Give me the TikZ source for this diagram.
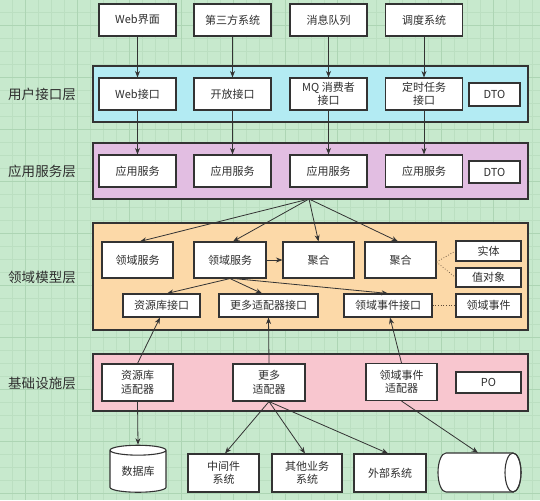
\documentclass[tikz,border=0pt]{standalone}
\usepackage{fontspec}
\newfontfamily\cjk{Noto Sans CJK SC}
\usetikzlibrary{shapes.geometric,arrows.meta}
\definecolor{bg}{HTML}{C7E9CD}
\definecolor{gridmin}{HTML}{BBDFC1}
\definecolor{gridmaj}{HTML}{ADD5B4}
\definecolor{lblue}{HTML}{B3EBF3}
\definecolor{lpurple}{HTML}{E2BEE2}
\definecolor{lorange}{HTML}{FCD9A8}
\definecolor{lpink}{HTML}{F8C6CF}
\definecolor{edge}{HTML}{333333}
\definecolor{txt}{HTML}{2E2E2E}
\tikzset{
  layerbox/.style={draw=edge, line width=1.1pt},
  wbox/.style={draw=edge, fill=white, line width=1.1pt, inner sep=0pt, align=center,
    text=txt, font=\cjk\fontsize{11}{13.5}\selectfont},
  layerlabel/.style={text=txt, font=\cjk\fontsize{13.5}{16}\selectfont},
  arr/.style={draw=edge, line width=0.8pt, -{Stealth[length=6.5pt,width=5pt]}},
  dotl/.style={draw=edge!70!brown, line width=0.7pt, dotted},
}
\begin{document}
\begin{tikzpicture}[x=1pt,y=-1pt]
\useasboundingbox (0,0) rectangle (540,500);
\fill[bg] (0,0) rectangle (540,500);
\foreach \i in {0,...,41} {
  \draw[gridmin, line width=0.5pt] (12+13*\i,0) -- (12+13*\i,500);
  \draw[gridmin, line width=0.5pt] (0,12+13*\i) -- (540,12+13*\i);
}
\foreach \i in {0,...,10} {
  \draw[gridmaj, line width=0.7pt] (25+52*\i,0) -- (25+52*\i,500);
  \draw[gridmaj, line width=0.7pt] (0,25+52*\i) -- (540,25+52*\i);
}
% layers
\filldraw[layerbox, fill=lblue] (93,66) rectangle (528,122);
\filldraw[layerbox, fill=lpurple] (93,143) rectangle (528,199);
\filldraw[layerbox, fill=lorange] (93,223) rectangle (528,330);
\filldraw[layerbox, fill=lpink] (93,354) rectangle (528,411);
% layer labels
\node[layerlabel] (l1) at (42,94) {用户接口层};
\node[layerlabel] (l2) at (42,171) {应用服务层};
\node[layerlabel] (l3) at (42,277) {领域模型层};
\node[layerlabel] (l4) at (42,383) {基础设施层};
% top systems
\node[wbox, minimum width=77, minimum height=32] (web) at (137.5,20) {Web界面};
\node[wbox, minimum width=77, minimum height=32] (third) at (232.5,20) {第三方系统};
\node[wbox, minimum width=77, minimum height=32] (mq) at (328.5,20) {消息队列};
\node[wbox, minimum width=77, minimum height=32] (sched) at (424,20) {调度系统};
% interface layer
\node[wbox, minimum width=77, minimum height=32] (webi) at (137.5,94) {Web接口};
\node[wbox, minimum width=77, minimum height=32] (openi) at (232.5,94) {开放接口};
\node[wbox, minimum width=77, minimum height=32] (mqi) at (328.5,94) {MQ 消费者\\接口};
\node[wbox, minimum width=77, minimum height=32] (schedi) at (424,94) {定时任务\\接口};
\node[wbox, minimum width=51, minimum height=23] (dto1) at (494.5,94.5) {DTO};
% application layer
\node[wbox, minimum width=77, minimum height=32] (app1) at (137.5,171) {应用服务};
\node[wbox, minimum width=77, minimum height=32] (app2) at (232.5,171) {应用服务};
\node[wbox, minimum width=77, minimum height=32] (app3) at (328.5,171) {应用服务};
\node[wbox, minimum width=77, minimum height=32] (app4) at (424,171) {应用服务};
\node[wbox, minimum width=51, minimum height=22] (dto2) at (494.5,172) {DTO};
% domain layer
\node[wbox, minimum width=71, minimum height=36] (ds1) at (137.5,260) {领域服务};
\node[wbox, minimum width=72, minimum height=36] (ds2) at (230,260) {领域服务};
\node[wbox, minimum width=71, minimum height=36] (ag1) at (318.5,260) {聚合};
\node[wbox, minimum width=71, minimum height=36] (ag2) at (400.5,260) {聚合};
\node[wbox, minimum width=65, minimum height=20] (ent) at (488.5,251) {实体};
\node[wbox, minimum width=65, minimum height=19] (vo) at (488.5,277.5) {值对象};
\node[wbox, minimum width=77, minimum height=23] (repoi) at (161.5,305.5) {资源库接口};
\node[wbox, minimum width=99, minimum height=23] (morei) at (268.5,305.5) {更多适配器接口};
\node[wbox, minimum width=88, minimum height=23] (evi) at (388,305.5) {领域事件接口};
\node[wbox, minimum width=65, minimum height=23] (ev) at (488.5,305.5) {领域事件};
% infrastructure layer
\node[wbox, minimum width=71, minimum height=37] (repoa) at (137.5,382.5) {资源库\\适配器};
\node[wbox, minimum width=72, minimum height=37] (morea) at (269,382.5) {更多\\适配器};
\node[wbox, minimum width=71, minimum height=37] (eva) at (401.5,382) {领域事件\\适配器};
\node[wbox, minimum width=65, minimum height=21] (po) at (488.5,382.5) {PO};
% external
\node[wbox, cylinder, shape border rotate=90, aspect=0.3, minimum width=56, minimum height=47] (db) at (138,471.5) {数据库};
\node[wbox, minimum width=71, minimum height=38] (mid) at (223.5,473) {中间件\\系统};
\node[wbox, minimum width=70, minimum height=38] (other) at (307,473) {其他业务\\系统};
\node[wbox, minimum width=72, minimum height=38] (ext) at (390,473) {外部系统};
% horizontal cylinder (drawn by hand)
\filldraw[draw=edge, fill=white, line width=1.1pt]
  (446,453) arc[start angle=270, end angle=90, x radius=8, y radius=19.5]
  -- (513,492) arc[start angle=90, end angle=-90, x radius=8, y radius=19.5] -- cycle;
\draw[draw=edge, line width=1.1pt] (513,472.5) ellipse[x radius=8, y radius=19.5];
\node[inner sep=0pt, minimum width=83, minimum height=39] (hc) at (479.5,472.5) {};
% arrows top -> interface -> app
\draw[arr] (web) -- (webi);
\draw[arr] (third) -- (openi);
\draw[arr] (mq) -- (mqi);
\draw[arr] (sched) -- (schedi);
\draw[arr] (webi) -- (app1);
\draw[arr] (openi) -- (app2);
\draw[arr] (mqi) -- (app3);
\draw[arr] (schedi) -- (app4);
% fan from application layer
\coordinate (fan) at (309,199);
\draw[arr] (fan) -- ([xshift=2.5pt]ds1.north);
\draw[arr] (fan) -- ([xshift=3pt]ds2.north);
\draw[arr] (fan) -- (ag1.north);
\draw[arr] (fan) -- ([xshift=-2.5pt]ag2.north);
% domain internal
\draw[arr] (ds2.east) -- (ag1.west);
\draw[arr] (ds2.south) -- ([xshift=5.5pt]repoi.north);
\draw[arr] (ds2.south) -- ([xshift=-6.5pt]morei.north);
\draw[arr] ([xshift=4pt]ds2.south) -- (evi.north);
\draw[dotl] ([yshift=-2pt]ag2.east) -- (ent.west);
\draw[dotl] ([yshift=-2pt]ag2.east) -- (vo.west);
\draw[dotl] (evi.east) -- (ev.west);
% infrastructure -> domain
\draw[arr] (repoa.north) -- ([xshift=-1.5pt]repoi.south);
\draw[arr] (morea.north) -- (morei.south);
\draw[arr] (eva.north) -- ([xshift=2pt]evi.south);
% infrastructure -> external
\draw[arr] (repoa.south) -- (db.north);
\draw[arr] (morea.south) -- ([xshift=1.5pt]mid.north);
\draw[arr] (morea.south) -- ([xshift=-2pt]other.north);
\draw[arr] (morea.south) -- ([xshift=-2pt]ext.north);
\draw[arr] (eva.south) -- ([xshift=-1.5pt]hc.north);
\end{tikzpicture}
\end{document}
